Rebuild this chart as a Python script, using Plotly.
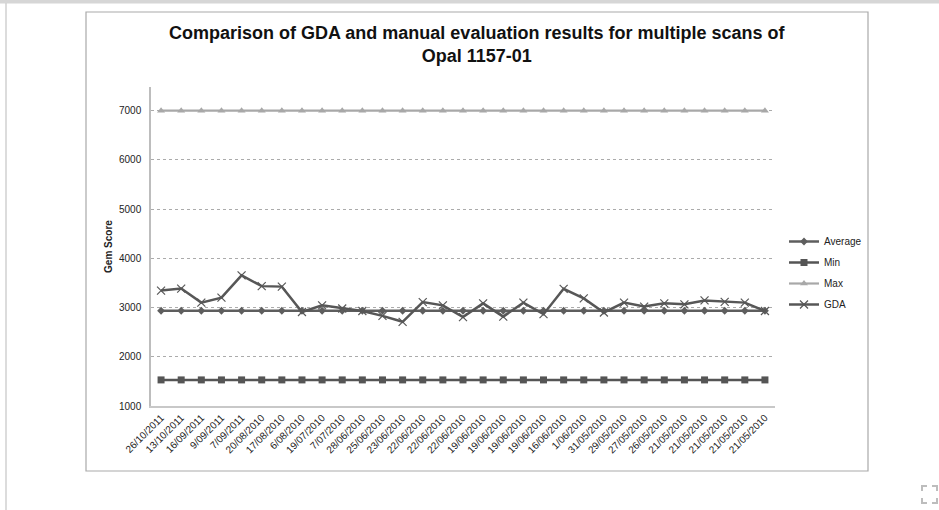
import plotly.graph_objects as go

# Scan dates (category labels, newest first)
scan_dates = [
    "26/10/2011", "13/10/2011", "16/09/2011", "9/09/2011", "7/09/2011",
    "20/08/2010", "17/08/2010", "6/08/2010", "19/07/2010", "7/07/2010",
    "28/06/2010", "25/06/2010", "23/06/2010", "22/06/2010", "22/06/2010",
    "22/06/2010", "19/06/2010", "19/06/2010", "19/06/2010", "19/06/2010",
    "16/06/2010", "1/06/2010", "31/05/2010", "29/05/2010", "27/05/2010",
    "26/05/2010", "21/05/2010", "21/05/2010", "21/05/2010", "21/05/2010",
    "21/05/2010",
]

# Manual evaluation statistics
average_score = [
    2935, 2935, 2935, 2935, 2935, 2935, 2935, 2935, 2935, 2935, 2935,
    2935, 2935, 2935, 2935, 2935, 2935, 2935, 2935, 2935, 2935, 2935,
    2935, 2935, 2935, 2935, 2935, 2935, 2935, 2935, 2935,
]
min_score = [
    1530, 1530, 1530, 1530, 1530, 1530, 1530, 1530, 1530, 1530, 1530,
    1530, 1530, 1530, 1530, 1530, 1530, 1530, 1530, 1530, 1530, 1530,
    1530, 1530, 1530, 1530, 1530, 1530, 1530, 1530, 1530,
]
max_score = [
    7000, 7000, 7000, 7000, 7000, 7000, 7000, 7000, 7000, 7000, 7000,
    7000, 7000, 7000, 7000, 7000, 7000, 7000, 7000, 7000, 7000, 7000,
    7000, 7000, 7000, 7000, 7000, 7000, 7000, 7000, 7000,
]

# GDA result for each scan
gda_score = [
    3345, 3385, 3100, 3200, 3655, 3435, 3425, 2910, 3045, 2980, 2930,
    2830, 2710, 3110, 3045, 2805, 3085, 2815, 3100, 2865, 3380, 3185,
    2900, 3100, 3020, 3085, 3065, 3145, 3115, 3100, 2930,
]

y_ticks = [1000, 2000, 3000, 4000, 5000, 6000, 7000]

FONT = "Liberation Sans, Arial, sans-serif"
W, H = 939, 510
ML, MR, MT, MB = 151, 164, 87, 104
PW, PH = W - ML - MR, H - MT - MB


def px_x(p):
    return (p - ML) / PW


def px_y(p):
    return 1 - (p - MT) / PH


idx = list(range(len(scan_dates)))

fig = go.Figure()

series = [
    ("Average", average_score, "#5e5e5e", "diamond", 6, 2.5),
    ("Min", min_score, "#555555", "square", 7, 2.5),
    ("Max", max_score, "#a8a8a8", "triangle-up", 7, 2.2),
]
for name, vals, col, sym, size, lw in series:
    fig.add_trace(go.Scatter(
        x=idx, y=vals, name=name, mode="lines+markers",
        line=dict(color=col, width=lw),
        marker=dict(symbol=sym, size=size, color=col),
        legendgroup=name,
    ))

fig.add_trace(go.Scatter(
    x=idx, y=gda_score, name="GDA", mode="lines+markers",
    line=dict(color="#575757", width=2.5),
    marker=dict(symbol="x-thin-open", size=8,
                line=dict(color="#575757", width=1.2)),
    legendgroup="GDA",
))

shapes = [
    # outer chart frame
    dict(type="rect", xref="paper", yref="paper",
         x0=px_x(86), x1=px_x(868), y0=px_y(471), y1=px_y(12),
         line=dict(color="#a9a9a9", width=1.2), layer="below"),
    # page edges
    dict(type="rect", xref="paper", yref="paper",
         x0=px_x(0), x1=px_x(W), y0=px_y(3.5), y1=px_y(0),
         line=dict(width=0), fillcolor="#d6d6d6", layer="below"),
    dict(type="line", xref="paper", yref="paper",
         x0=px_x(6), x1=px_x(6), y0=px_y(3), y1=px_y(H),
         line=dict(color="#d0d0d0", width=1.5), layer="below"),
]

# small expand icon in the lower right corner
for (cx, cy, dx, dy) in [(922, 486, 1, 1), (937, 486, -1, 1),
                         (922, 503, 1, -1), (937, 503, -1, -1)]:
    shapes.append(dict(
        type="path", xref="paper", yref="paper",
        path="M {a},{b} L {c},{d} L {e},{f}".format(
            a=px_x(cx), b=px_y(cy + 5 * dy),
            c=px_x(cx), d=px_y(cy),
            e=px_x(cx + 5 * dx), f=px_y(cy)),
        line=dict(color="#bdbdbd", width=2),
    ))

fig.update_layout(
    width=W, height=H, autosize=False,
    margin=dict(l=ML, r=MR, t=MT, b=MB, pad=0),
    paper_bgcolor="white", plot_bgcolor="white",
    font=dict(family=FONT, size=10, color="#222222"),
    showlegend=True,
    legend=dict(
        x=px_x(784), y=px_y(273), xanchor="left", yanchor="middle",
        font=dict(family=FONT, size=10, color="#222222"),
        itemwidth=30, tracegroupgap=2, traceorder="grouped",
        bgcolor="rgba(0,0,0,0)",
    ),
    shapes=shapes,
    annotations=[
        dict(
            text="<b>Comparison of GDA and manual evaluation results for multiple scans of<br>Opal 1157-01</b>",
            xref="paper", yref="paper", x=px_x(477), y=px_y(44),
            xanchor="center", yanchor="middle", showarrow=False,
            font=dict(family=FONT, size=18, color="#111111"),
        ),
    ],
    xaxis=dict(
        range=[-0.5, len(scan_dates) - 0.5],
        tickmode="array", tickvals=idx, ticktext=scan_dates,
        tickangle=-45, tickfont=dict(size=10, color="#222222"),
        showgrid=False, zeroline=False,
        showline=True, linecolor="#c8c8c8", linewidth=2,
        ticks="",
    ),
    yaxis=dict(
        range=[1000, 7480],
        tickmode="array", tickvals=y_ticks,
        tickfont=dict(size=10, color="#222222"),
        showgrid=True, gridcolor="#ababab", gridwidth=1, griddash="3px,3px",
        zeroline=False, showline=True, linecolor="#bdbdbd", linewidth=1.5,
        ticks="", ticklabelstandoff=6,
        title=dict(text="<b>Gem Score</b>", standoff=5,
                   font=dict(family=FONT, size=10, color="#222222")),
    ),
)

fig.write_html("out.html")
